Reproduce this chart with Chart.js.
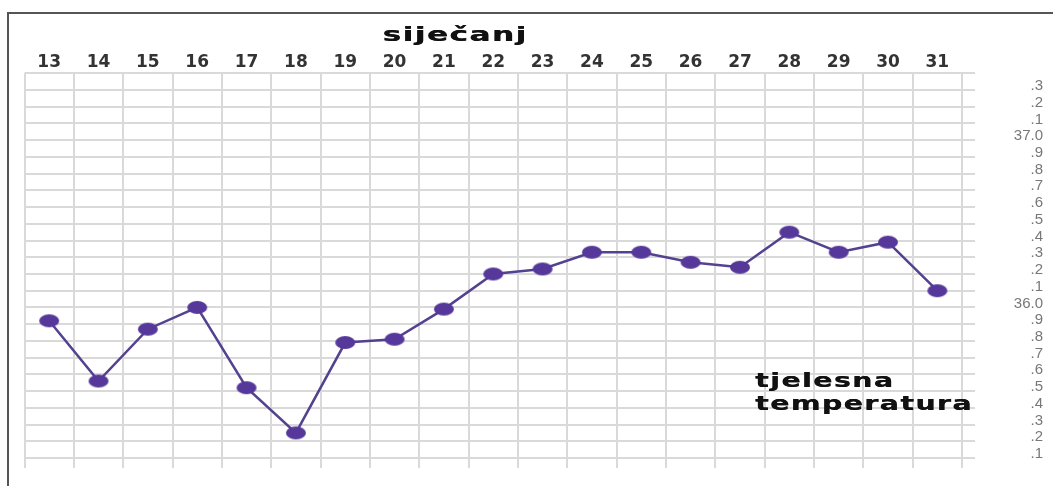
<!DOCTYPE html>
<html>
<head>
<meta charset="utf-8">
<script src="https://cdn.jsdelivr.net/npm/chart.js@4"></script>
<style>
    body { margin: 0; background: #fff; }
    #wrap { position: relative; width: 1053px; height: 486px; overflow: hidden; }
    #frame { position: absolute; left: 7px; top: 12px; width: 1100px; height: 500px;
             border-left: 2px solid #555; border-top: 2px solid #555; pointer-events: none; }
</style>
</head>
<body>
<div id="wrap">
    <canvas id="tempChart" width="1053" height="486"></canvas>
    <div id="frame"></div>
</div>
<script>
// Podaci očitani s grafa
const monthTitle = 'siječanj';
const days = ['13', '14', '15', '16', '17', '18', '19', '20', '21', '22',
              '23', '24', '25', '26', '27', '28', '29', '30', '31'];
const temperatures = [35.92, 35.56, 35.87, 36.0, 35.52, 35.25, 35.79, 35.81, 35.99, 36.2,
                      36.23, 36.33, 36.33, 36.27, 36.24, 36.45, 36.33, 36.39, 36.1];
// oznake y osi odozdo prema gore (35.1 ... 37.4)
const yTickLabels = ['.1', '.2', '.3', '.4', '.5', '.6', '.7', '.8', '.9', '36.0',
                     '.1', '.2', '.3', '.4', '.5', '.6', '.7', '.8', '.9', '37.0',
                     '.1', '.2', '.3', ''];
const seriesLabel = ['tjelesna', 'temperatura'];

// točka u obliku elipse
function makeDot() {
    const c = document.createElement('canvas');
    c.width = 22;
    c.height = 15;
    const g = c.getContext('2d');
    g.fillStyle = '#553899';
    g.beginPath();
    g.ellipse(11, 7.5, 10, 6.5, 0, 0, Math.PI * 2);
    g.fill();
    return c;
}

// široki podebljani tekst
function drawWide(ctx, text, x, y, align, sx) {
    ctx.save();
    ctx.font = 'bold 20px "DejaVu Sans"';
    ctx.fillStyle = '#111';
    ctx.letterSpacing = '1px';
    ctx.textAlign = align;
    ctx.textBaseline = 'alphabetic';
    ctx.translate(x, y);
    ctx.scale(sx, 1);
    ctx.fillText(text, 0, 0);
    // malo deblji potez
    ctx.fillText(text, 0.4, 0);
    ctx.restore();
}

const textPlugin = {
    id: 'textPlugin',
    afterDraw(chart) {
        const ctx = chart.ctx;
        drawWide(ctx, monthTitle, 455, 41, 'center', 1.55);
        drawWide(ctx, seriesLabel[0], 755, 387, 'left', 1.42);
        drawWide(ctx, seriesLabel[1], 755, 410, 'left', 1.42);
    }
};

const gridColor = '#d9d9d9';

new Chart(document.getElementById('tempChart').getContext('2d'), {
    type: 'line',
    data: {
        labels: days,
        datasets: [{
            label: 'tjelesna temperatura',
            data: temperatures,
            borderColor: 'rgb(84, 66, 145)',
            borderWidth: 2.5,
            tension: 0,
            pointStyle: makeDot(),
            pointRadius: 8,
            xAxisID: 'x',
            yAxisID: 'y'
        }]
    },
    plugins: [textPlugin],
    options: {
        responsive: false,
        animation: false,
        layout: { padding: { top: 52.8, left: 24.5, right: 10, bottom: 18 } },
        plugins: {
            legend: { display: false },
            tooltip: { enabled: false }
        },
        scales: {
            x: {
                type: 'category',
                position: 'top',
                offset: true,
                grid: { display: false, drawTicks: false },
                border: { display: false },
                ticks: {
                    autoSkip: false,
                    maxRotation: 0,
                    padding: 0,
                    color: '#333',
                    font: { family: 'DejaVu Sans', weight: 'bold', size: 17 }
                }
            },
            x2: {
                type: 'category',
                position: 'bottom',
                offset: true,
                grid: { offset: true, color: gridColor, lineWidth: 2, drawTicks: true, tickLength: 10 },
                border: { display: false },
                ticks: { display: false }
            },
            y: {
                position: 'right',
                min: 35.1,
                max: 37.4,
                grid: { color: gridColor, lineWidth: 2, drawTicks: true, tickLength: 13 },
                border: { display: false },
                afterFit: (s) => {
                    s.width = 81;
                    s.paddingTop = 0;
                    s.paddingBottom = 0;
                },
                ticks: {
                    stepSize: 0.1,
                    autoSkip: false,
                    crossAlign: 'far',
                    padding: 39,
                    labelOffset: -4,
                    color: '#777',
                    font: { family: 'Liberation Sans', size: 15 },
                    callback: (value, index) => yTickLabels[index]
                }
            }
        }
    }
});
</script>
</body>
</html>
